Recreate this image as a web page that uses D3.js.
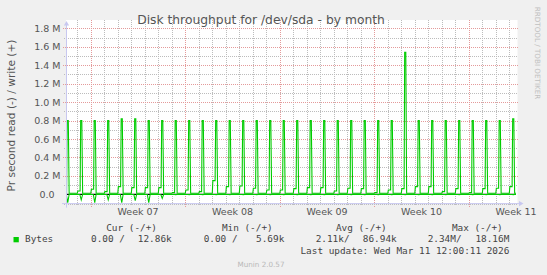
<!DOCTYPE html>
<html>
<head>
<meta charset="utf-8">
<script src="https://cdn.jsdelivr.net/npm/d3@7/dist/d3.min.js"></script>
<style>
    body { margin: 0; background: #f0f0f0; }
    svg { display: block; }
    .sans { font-family: "DejaVu Sans", sans-serif; }
    .mono { font-family: "DejaVu Sans Mono", monospace; }
</style>
</head>
<body>
<div id="chart"></div>
<script>

// First day on the graph (UTC); one write spike per day from here on.
const firstDay = Date.UTC(2026, 1, 7);
const viewStart = Date.UTC(2026, 1, 7, 3, 55);
const viewEnd = Date.UTC(2026, 2, 12, 11, 55);

// Daily write peak, M bytes/s.
const writePeak = [0.80, 0.80, 0.80, 0.80, 0.82, 0.82, 0.80, 0.80, 0.80, 0.80,
                   0.80, 0.80, 0.80, 0.80, 0.80, 0.80, 0.80, 0.80, 0.80, 0.80,
                   0.80, 0.80, 0.80, 0.80, 0.80, 1.54, 0.80, 0.80, 0.80, 0.80,
                   0.80, 0.80, 0.80, 0.82];

// Small write bump in the hours before each spike, M bytes/s.
const writeShoulder = [0.020, 0.037, 0.055, 0.030, 0.084, 0.073, 0.073, 0.073, 0.019, 0.048,
                       0.030, 0.149, 0.084, 0.091, 0.066, 0.048, 0.048, 0.062, 0.073, 0.073,
                       0.037, 0.066, 0.062, 0.019, 0.048, 0.062, 0.084, 0.084, 0.030, 0.062,
                       0.019, 0.062, 0.066, 0.084];

// Daily read peak (drawn below zero), M bytes/s.
const readPeak = [0.090, 0.060, 0.090, 0.060, 0.090, 0.068, 0.090, 0.043, 0.003, 0.003,
                  0.003, 0.003, 0.003, 0.003, 0.003, 0.003, 0.003, 0.003, 0.003, 0.003,
                  0.003, 0.003, 0.003, 0.003, 0.003, 0.003, 0.003, 0.003, 0.003, 0.003,
                  0.003, 0.003, 0.003, 0.003];

// Quiet level between spikes.
const writeBase = 0.012;
const readBase = 0.001;

// Axis labels.
const yTickValues = [0, 0.2, 0.4, 0.6, 0.8, 1.0, 1.2, 1.4, 1.6, 1.8];
const yTickLabels = ["0.0", "0.2 M", "0.4 M", "0.6 M", "0.8 M", "1.0 M", "1.2 M", "1.4 M", "1.6 M", "1.8 M"];
const weekStarts = [Date.UTC(2026, 1, 9), Date.UTC(2026, 1, 16), Date.UTC(2026, 1, 23),
                    Date.UTC(2026, 2, 2), Date.UTC(2026, 2, 9)];
const weekLabels = ["Week 07", "Week 08", "Week 09", "Week 10", "Week 11"];

// Legend rows.
const legendHeads = ["Cur (-/+)", "Min (-/+)", "Avg (-/+)", "Max (-/+)"];
const legendValues = [["0.00 /", "12.86k"], ["0.00 /", "5.69k"], ["2.11k/", "86.94k"], ["2.34M/", "18.16M"]];

const HOUR = 3600 * 1000;
const DAY = 24 * HOUR;

function drawChart() {

    const plot = { left: 66, right: 516, top: 20, bottom: 203.6 };

    const svg = d3.select("#chart")
        .append("svg")
        .attr("width", 547)
        .attr("height", 275);

    svg.append("rect")
        .attr("width", 547).attr("height", 275)
        .attr("fill", "#f0f0f0");

    svg.append("rect")
        .attr("x", plot.left).attr("y", plot.top)
        .attr("width", plot.right + 1.5 - plot.left)
        .attr("height", plot.bottom - plot.top)
        .attr("fill", "#ffffff");

    const x = d3.scaleUtc()
        .domain([viewStart, viewEnd])
        .range([plot.left, plot.right]);

    const y = d3.scaleLinear()
        .domain([-0.1, 1.8])
        .range([plot.bottom, 28.3]);

    // Grid: days minor, weeks major.
    const grid = svg.append("g").attr("shape-rendering", "crispEdges");
    const days = d3.utcDay.range(viewStart, viewEnd);
    grid.selectAll(".vminor")
        .data(days.filter(d => d.getUTCDay() !== 1))
        .enter().append("line")
        .attr("x1", d => Math.round(x(d)) + 0.5).attr("x2", d => Math.round(x(d)) + 0.5)
        .attr("y1", plot.top).attr("y2", plot.bottom + 2)
        .attr("stroke", "#bcbcbc").attr("stroke-dasharray", "1,1");
    grid.selectAll(".vmajor")
        .data(weekStarts)
        .enter().append("line")
        .attr("x1", d => Math.round(x(d)) + 0.5).attr("x2", d => Math.round(x(d)) + 0.5)
        .attr("y1", plot.top).attr("y2", plot.bottom + 3)
        .attr("stroke", "#e49a9a").attr("stroke-dasharray", "1,1");

    const minorY = d3.range(-1, 19).map(v => v / 10).filter(v => v !== 0 && (Math.round(v * 10) % 2 !== 0));
    grid.selectAll(".hminor")
        .data(minorY)
        .enter().append("line")
        .attr("x1", plot.left - 2).attr("x2", plot.right + 1.5)
        .attr("y1", d => Math.round(y(d)) + 0.5).attr("y2", d => Math.round(y(d)) + 0.5)
        .attr("stroke", "#bcbcbc").attr("stroke-dasharray", "1,1");
    grid.selectAll(".hmajor")
        .data(yTickValues.filter(v => v !== 0))
        .enter().append("line")
        .attr("x1", plot.left - 3).attr("x2", plot.right + 1.5)
        .attr("y1", d => Math.round(y(d)) + 0.5).attr("y2", d => Math.round(y(d)) + 0.5)
        .attr("stroke", "#e49a9a").attr("stroke-dasharray", "1,1");

    // Build the 2-hour style series from the daily readings.
    const writeSeries = [];
    const readSeries = [];
    writePeak.forEach((peak, i) => {
        const d = firstDay + i * DAY;
        writeSeries.push([d, writeBase], [d + 1 * HOUR, writeShoulder[i]], [d + 5 * HOUR, writeShoulder[i]],
                         [d + 6 * HOUR, peak], [d + 8 * HOUR, peak], [d + 9.5 * HOUR, writeBase]);
        readSeries.push([d, readBase], [d + 4.5 * HOUR, readBase], [d + 7 * HOUR, readPeak[i]],
                        [d + 9.5 * HOUR, readBase]);
    });
    writeSeries.push([viewEnd, writeBase]);
    readSeries.push([viewEnd, readBase]);

    svg.append("clipPath").attr("id", "plotclip")
        .append("rect")
        .attr("x", plot.left).attr("y", plot.top)
        .attr("width", plot.right - plot.left).attr("height", plot.bottom - plot.top);

    const lines = svg.append("g").attr("clip-path", "url(#plotclip)");

    // Zero line.
    lines.append("line")
        .attr("x1", plot.left).attr("x2", plot.right)
        .attr("y1", y(0)).attr("y2", y(0))
        .attr("stroke", "#000000").attr("stroke-width", 1.2);

    const writeLine = d3.line().x(d => x(d[0])).y(d => y(d[1]));
    const readLine = d3.line().x(d => x(d[0])).y(d => y(-d[1]));

    lines.append("path")
        .attr("d", readLine(readSeries))
        .attr("fill", "none").attr("stroke", "#00cc00").attr("stroke-width", 1.1);
    lines.append("path")
        .attr("d", writeLine(writeSeries))
        .attr("fill", "none").attr("stroke", "#00cc00").attr("stroke-width", 1.1);

    // Axes with arrows.
    const axisColor = "#c8c8f0";
    svg.append("line")
        .attr("x1", plot.left - 4).attr("x2", 519)
        .attr("y1", plot.bottom).attr("y2", plot.bottom)
        .attr("stroke", axisColor);
    svg.append("path")
        .attr("d", "M519,201 L523.5,203.6 L519,206.2 Z")
        .attr("fill", axisColor);
    svg.append("line")
        .attr("x1", plot.left + 0.5).attr("x2", plot.left + 0.5)
        .attr("y1", plot.bottom + 4).attr("y2", 25)
        .attr("stroke", axisColor);
    svg.append("path")
        .attr("d", "M63.9,25.5 L66.5,21 L69.1,25.5 Z")
        .attr("fill", axisColor);

    // Y tick labels.
    svg.selectAll(".ylab")
        .data(yTickValues)
        .enter().append("text")
        .attr("class", "sans")
        .attr("x", (d, i) => i === 0 ? 54.5 : 60.5)
        .attr("y", d => y(d) + 3.5)
        .attr("text-anchor", "end")
        .attr("font-size", "9.5px")
        .attr("fill", "#555555")
        .text((d, i) => yTickLabels[i]);

    // Week labels centred on mid-week.
    svg.selectAll(".xlab")
        .data(weekStarts)
        .enter().append("text")
        .attr("class", "sans")
        .attr("x", d => x(d + 3.5 * DAY))
        .attr("y", 215)
        .attr("text-anchor", "middle")
        .attr("font-size", "9.5px")
        .attr("fill", "#555555")
        .text((d, i) => weekLabels[i]);

    // Title and side texts.
    svg.append("text")
        .attr("class", "sans")
        .attr("x", 261).attr("y", 23.5)
        .attr("text-anchor", "middle")
        .attr("font-size", "12.3px")
        .attr("fill", "#555555")
        .text("Disk throughput for /dev/sda - by month");

    svg.append("text")
        .attr("class", "sans")
        .attr("transform", "translate(14.5,115.5) rotate(-90)")
        .attr("text-anchor", "middle")
        .attr("font-size", "10.6px")
        .attr("fill", "#555555")
        .text("Pr second read (-) / write (+)");

    svg.append("text")
        .attr("class", "sans")
        .attr("transform", "translate(535,53) rotate(90)")
        .attr("text-anchor", "middle")
        .attr("font-size", "7.2px")
        .attr("fill", "#c0c0c0")
        .text("RRDTOOL / TOBI OETIKER");

    // Legend.
    const legend = svg.append("g").attr("class", "mono").attr("font-size", "9.4px").attr("fill", "#444444");
    const colRight = [157, 272.7, 386.7, 502.7];
    legendHeads.forEach((h, i) => {
        legend.append("text")
            .attr("x", colRight[i]).attr("y", 230.5)
            .attr("text-anchor", "end")
            .text(h);
    });
    legend.append("rect")
        .attr("x", 13.5).attr("y", 237).attr("width", 5.3).attr("height", 5.3)
        .attr("fill", "#00cc00");
    legend.append("text").attr("x", 25).attr("y", 242).text("Bytes");
    const valueLeft = [91, 203.7, 315.7, 427.7];
    const valueRight = [171.7, 284.3, 396.7, 509.3];
    legendValues.forEach((v, i) => {
        legend.append("text").attr("x", valueLeft[i]).attr("y", 242).text(v[0]);
        legend.append("text").attr("x", valueRight[i]).attr("y", 242)
            .attr("text-anchor", "end").text(v[1]);
    });
    legend.append("text")
        .attr("x", 509.3).attr("y", 253.5)
        .attr("text-anchor", "end")
        .text("Last update: Wed Mar 11 12:00:11 2026");

    svg.append("text")
        .attr("class", "sans")
        .attr("x", 261).attr("y", 266.5)
        .attr("text-anchor", "middle")
        .attr("font-size", "7.2px")
        .attr("fill", "#b8b8b8")
        .text("Munin 2.0.57");
}

drawChart();
</script>
</body>
</html>
